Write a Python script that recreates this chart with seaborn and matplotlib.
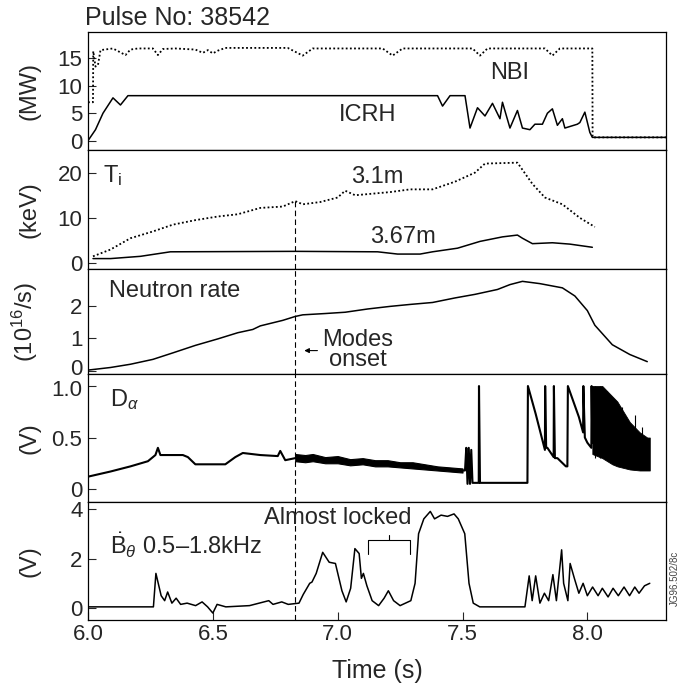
import numpy as np
import pandas as pd
import matplotlib
matplotlib.use("Agg")
import matplotlib.pyplot as plt
import matplotlib.transforms as mtrans
import seaborn as sns

# ---------------- data ----------------
# Panel 1: heating power (MW)
nbi_t = [6.0, 6.02, 6.021, 6.03, 6.04, 6.05, 6.10, 6.15, 6.17, 6.20, 6.26, 6.28, 6.30,
         6.35, 6.43, 6.46, 6.48, 6.50, 6.52, 6.55, 6.80, 6.86, 6.90, 7.18, 7.22, 7.26,
         7.54, 7.57, 7.60, 7.83, 7.86, 7.89, 8.02, 8.021, 8.32]
nbi_v = [7.0, 7.0, 16.3, 13.5, 13.8, 16.5, 16.8, 15.6, 16.6, 16.8, 16.8, 15.6, 16.7,
         16.8, 16.6, 16.0, 16.5, 15.9, 16.4, 16.9, 16.9, 15.5, 16.8, 16.8, 15.5, 16.8,
         16.8, 15.5, 16.8, 16.8, 15.5, 16.8, 16.8, 0.6, 0.6]
icrh_t = [6.0, 6.03, 6.06, 6.10, 6.13, 6.16, 7.40, 7.42, 7.45, 7.51, 7.53, 7.56, 7.59,
          7.62, 7.65, 7.66, 7.69, 7.72, 7.74, 7.77, 7.79, 7.82, 7.84, 7.86, 7.88, 7.90,
          7.91, 7.96, 7.97, 7.99, 8.01, 8.02, 8.32]
icrh_v = [0.0, 2.0, 5.0, 7.8, 6.5, 8.2, 8.2, 6.3, 8.2, 8.2, 2.3, 6.0, 4.5, 6.8, 4.0,
          7.0, 2.3, 5.5, 2.3, 2.0, 3.0, 3.0, 5.0, 5.8, 2.8, 4.0, 2.3, 3.0, 3.3, 5.2,
          1.5, 0.6, 0.6]

# Panel 2: ion temperature (keV)
ti31_t = [6.02, 6.09, 6.17, 6.26, 6.34, 6.43, 6.52, 6.60, 6.69, 6.78, 6.83, 6.86, 6.93,
          7.00, 7.03, 7.07, 7.21, 7.29, 7.38, 7.47, 7.55, 7.59, 7.72, 7.78, 7.83, 7.90,
          7.97, 8.03]
ti31_v = [1.5, 3.0, 5.5, 7.0, 8.5, 9.5, 10.3, 10.8, 12.2, 12.5, 13.7, 13.0, 13.5, 14.5,
          16.0, 15.0, 15.7, 16.3, 16.3, 18.0, 20.0, 22.0, 22.2, 17.5, 14.5, 13.0, 10.0, 8.0]
ti367_t = [6.02, 6.09, 6.21, 6.33, 6.83, 7.16, 7.24, 7.33, 7.38, 7.48, 7.57, 7.66, 7.72,
           7.74, 7.78, 7.86, 7.93, 8.02]
ti367_v = [1.0, 1.0, 1.5, 2.5, 2.6, 2.5, 2.0, 2.0, 2.5, 3.3, 4.8, 5.8, 6.2, 5.5, 4.3,
           4.5, 4.2, 3.5]

# Panel 3: neutron rate (1e16/s)
neu_t = [6.0, 6.09, 6.17, 6.26, 6.34, 6.43, 6.52, 6.60, 6.66, 6.69, 6.78, 6.83, 6.86,
         6.95, 7.03, 7.12, 7.21, 7.29, 7.38, 7.47, 7.55, 7.64, 7.69, 7.74, 7.81, 7.90,
         7.95, 8.00, 8.03, 8.10, 8.17, 8.24]
neu_v = [0.02, 0.10, 0.20, 0.35, 0.55, 0.78, 0.98, 1.17, 1.27, 1.38, 1.55, 1.67, 1.72,
         1.76, 1.80, 1.90, 1.98, 2.04, 2.10, 2.24, 2.35, 2.50, 2.65, 2.75, 2.68, 2.55,
         2.30, 1.85, 1.40, 0.80, 0.50, 0.28]

# Panel 4: D-alpha (V)
da_t = [6.0, 6.09, 6.17, 6.24, 6.27, 6.28, 6.29, 6.31, 6.38, 6.40, 6.43, 6.55, 6.59,
        6.62, 6.69, 6.76, 6.77, 6.79, 6.83, 6.83, 7.5, 7.51, 7.515, 7.52, 7.525, 7.53,
        7.535, 7.54, 7.565, 7.566, 7.57, 7.58, 7.76, 7.762, 7.793, 7.83, 7.831, 7.835,
        7.84, 7.865, 7.866, 7.87, 7.88, 7.914, 7.92, 7.922, 7.966, 7.983, 7.984, 7.99,
        8.00, 8.016, 8.017, 8.02]
da_v = [0.12, 0.17, 0.22, 0.27, 0.33, 0.40, 0.33, 0.33, 0.33, 0.31, 0.24, 0.24, 0.31,
        0.35, 0.33, 0.32, 0.37, 0.28, 0.30, 0.30, 0.18, 0.18, 0.40, 0.05, 0.40, 0.05,
        0.38, 0.06, 0.06, 1.00, 0.06, 0.06, 0.06, 1.00, 0.73, 0.38, 1.00, 0.40, 0.40,
        0.31, 1.00, 0.30, 0.30, 0.22, 0.22, 1.00, 0.70, 0.55, 1.00, 0.50, 0.45, 0.40,
        1.00, 0.45]
# noisy bands: envelopes
band1_t = [6.83, 6.87, 6.90, 6.95, 7.00, 7.05, 7.10, 7.15, 7.20, 7.25, 7.30, 7.40, 7.50]
band1_hi = [0.34, 0.33, 0.34, 0.31, 0.32, 0.29, 0.30, 0.28, 0.28, 0.26, 0.26, 0.22, 0.20]
band1_lo = [0.27, 0.26, 0.27, 0.25, 0.25, 0.23, 0.24, 0.22, 0.22, 0.21, 0.20, 0.18, 0.16]
band2_t = [8.02, 8.06, 8.10, 8.12, 8.17, 8.21, 8.24, 8.25]
band2_hi = [1.00, 1.00, 0.90, 0.85, 0.65, 0.55, 0.50, 0.50]
band2_lo = [0.34, 0.30, 0.24, 0.22, 0.19, 0.18, 0.18, 0.18]
spk_t = [8.03, 8.05, 8.08, 8.14, 8.19, 8.22]
spk_v = [1.00, 1.00, 0.95, 0.80, 0.72, 0.60]

# Panel 5: B-theta dot 0.5-1.8 kHz (V)
bt_t = [6.0, 6.262, 6.272, 6.293, 6.307, 6.319, 6.336, 6.353, 6.371, 6.397, 6.431,
        6.457, 6.479, 6.50, 6.517, 6.552, 6.647, 6.724, 6.741, 6.776, 6.802, 6.845,
        6.862, 6.888, 6.897, 6.914, 6.94, 6.966, 6.991, 7.017, 7.034, 7.052, 7.069,
        7.086, 7.095, 7.103, 7.117, 7.138, 7.164, 7.186, 7.203, 7.224, 7.25, 7.293,
        7.31, 7.324, 7.345, 7.371, 7.388, 7.414, 7.44, 7.466, 7.483, 7.509, 7.526,
        7.543, 7.569, 7.75, 7.767, 7.779, 7.793, 7.81, 7.828, 7.845, 7.862, 7.876,
        7.897, 7.905, 7.922, 7.931, 7.948, 7.966, 7.983, 8.0, 8.021, 8.043, 8.06,
        8.083, 8.103, 8.124, 8.147, 8.169, 8.19, 8.207, 8.229, 8.25]
bt_v = [0.05, 0.05, 1.40, 0.5, 0.3, 0.65, 0.2, 0.4, 0.15, 0.2, 0.1, 0.25, 0.05,
        -0.2, 0.15, 0.05, 0.1, 0.3, 0.15, 0.25, 0.15, 0.2, 0.55, 1.0, 1.05, 1.4,
        2.25, 1.85, 1.8, 0.7, 0.25, 0.8, 2.4, 2.2, 1.2, 1.4, 0.9, 0.3, 0.1, 0.4,
        0.7, 0.3, 0.1, 0.3, 1.0, 3.0, 3.6, 3.9, 3.6, 3.75, 3.7, 3.8, 3.6, 3.0, 1.0,
        0.2, 0.05, 0.05, 1.3, 0.3, 1.3, 0.2, 0.6, 0.3, 1.35, 0.3, 2.35, 1.0, 0.3,
        1.8, 1.2, 0.6, 1.0, 0.5, 0.85, 0.5, 0.8, 0.45, 0.8, 0.5, 0.85, 0.5, 0.85,
        0.6, 0.9, 1.0]

x_ticks = [6.0, 6.5, 7.0, 7.5, 8.0]
x_ticklabels = ["6.0", "6.5", "7.0", "7.5", "8.0"]
onset_t = 6.83

# ---------------- styling ----------------
sns.set_theme(style="white")
plt.rcParams["font.family"] = ["Liberation Sans", "DejaVu Sans"]
plt.rcParams["mathtext.fontset"] = "custom"
plt.rcParams["mathtext.rm"] = "Liberation Sans"
plt.rcParams["mathtext.it"] = "Liberation Sans:italic"
plt.rcParams["axes.edgecolor"] = "black"
plt.rcParams["axes.linewidth"] = 0.9

fig = plt.figure(figsize=(6.8, 6.85), dpi=100)
L, W = 88 / 680, 578 / 680
H = 685
boxes = [(32, 150), (150, 269), (269, 374), (374, 502), (502, 620)]
axes = [fig.add_axes([L, 1 - b / H, W, (b - t) / H]) for t, b in boxes]

FS = 17
TFS = 16
lw = 1.1

def line(ax, t, v, ls="-", lwid=lw):
    df = pd.DataFrame({"t": t, "v": v})
    sns.lineplot(data=df, x="t", y="v", ax=ax, color="black", linestyle=ls,
                 linewidth=lwid, sort=False, estimator=None)

ylims = [(-1.7, 19.8), (-1.3, 25.0), (-0.1, 3.13), (-0.126, 1.117), (-0.48, 4.28)]
yticks = [[0, 5, 10, 15], [0, 10, 20], [0, 1, 2], [0, 0.5, 1.0], [0, 2, 4]]
ytl = [["0", "5", "10", "15"], ["0", "10", "20"], ["0", "1", "2"],
       ["0", "0.5", "1.0"], ["0", "2", "4"]]
ylabels = ["(MW)", "(keV)", r"(10$^{16}$/s)", "(V)", "(V)"]

# panel 1
line(axes[0], nbi_t, nbi_v, ls=(0, (1, 1.3)), lwid=1.3)
line(axes[0], icrh_t, icrh_v)
axes[0].text(7.69, 12.3, "NBI", fontsize=FS, ha="center", va="center")
axes[0].text(7.12, 4.6, "ICRH", fontsize=FS, ha="center", va="center")

# panel 2
line(axes[1], ti31_t, ti31_v, ls=(0, (1, 1.3)), lwid=1.3)
line(axes[1], ti367_t, ti367_v)
axes[1].text(6.06, 19.3, r"T$_\mathrm{i}$", fontsize=FS, ha="left", va="center")
axes[1].text(7.16, 19.0, "3.1m", fontsize=FS, ha="center", va="center")
axes[1].text(7.26, 5.8, "3.67m", fontsize=FS, ha="center", va="center")

# panel 3
line(axes[2], neu_t, neu_v)
axes[2].text(6.085, 2.45, "Neutron rate", fontsize=FS, ha="left", va="center")
axes[2].text(7.08, 0.94, "Modes", fontsize=FS, ha="center", va="center")
axes[2].text(7.08, 0.32, "onset", fontsize=FS, ha="center", va="center")
axes[2].annotate("", xy=(6.855, 0.62), xytext=(6.93, 0.62),
                 arrowprops=dict(arrowstyle="-|>", color="black", lw=0.8,
                                 mutation_scale=7))

# panel 4
axes[3].fill_between(band1_t, band1_lo, band1_hi, color="black", lw=0.8)
axes[3].fill_between(band2_t, band2_lo, band2_hi, color="black", lw=0.6)
line(axes[3], da_t, da_v, lwid=1.5)
axes[3].vlines(spk_t, [0.3] * len(spk_t), spk_v, color="black", lw=0.8)
axes[3].text(6.09, 0.87, r"D$_\alpha$", fontsize=FS, ha="left", va="center")

# panel 5
line(axes[4], bt_t, bt_v)
axes[4].text(6.09, 2.55, r"$\dot{\mathrm{B}}_\theta$ 0.5–1.8kHz", fontsize=FS,
             ha="left", va="center")
axes[4].text(7.0, 3.62, "Almost locked", fontsize=FS, ha="center", va="center")
axes[4].plot([7.12, 7.12, 7.29, 7.29], [2.2, 2.75, 2.75, 2.2], color="black", lw=0.8)
axes[4].plot([7.205, 7.205], [2.75, 2.95], color="black", lw=0.8)

# onset dashed line
axes[1].vlines(onset_t, ylims[1][0], 13.7, color="black", lw=0.8, linestyles=(0, (5, 3)))
for ax in axes[2:]:
    ax.axvline(onset_t, color="black", lw=0.8, ls=(0, (5, 3)))

for i, ax in enumerate(axes):
    ax.set_xlim(6.0, 8.315)
    ax.set_ylim(*ylims[i])
    ax.set_yticks(yticks[i])
    ax.set_yticklabels(ytl[i], fontsize=TFS)
    ax.set_ylabel(ylabels[i], fontsize=FS)
    ax.yaxis.set_label_coords(-0.083, 0.5)
    ax.set_xlabel("")
    ax.tick_params(axis="y", direction="in", length=6, width=0.8, left=True, pad=4)
    ax.set_xticks(x_ticks)
    if i < 4:
        ax.tick_params(axis="x", bottom=False, labelbottom=False)
    else:
        ax.set_xticklabels(x_ticklabels, fontsize=TFS)
        ax.tick_params(axis="x", direction="in", length=6, width=0.8, bottom=True, pad=3)
        ax.set_xlabel("Time (s)", fontsize=18, labelpad=10)

# keep the stacked "0" and "1.0" labels apart, as in the reference
up = mtrans.ScaledTranslation(0, 2.5 / 72, fig.dpi_scale_trans)
down = mtrans.ScaledTranslation(0, -1.5 / 72, fig.dpi_scale_trans)
lbl0 = axes[2].get_yticklabels()[0]
lbl0.set_transform(lbl0.get_transform() + up)
lbl1 = axes[3].get_yticklabels()[2]
lbl1.set_transform(lbl1.get_transform() + down)

fig.text(L - 3 / 680, 1 - 18 / H, "Pulse No: 38542", fontsize=18, ha="left", va="center")
fig.text(0.992, 0.155, "JG96.502/8c", fontsize=7, rotation=90, ha="center",
         va="center", color="#444444")

fig.savefig("out.png", dpi=100)
